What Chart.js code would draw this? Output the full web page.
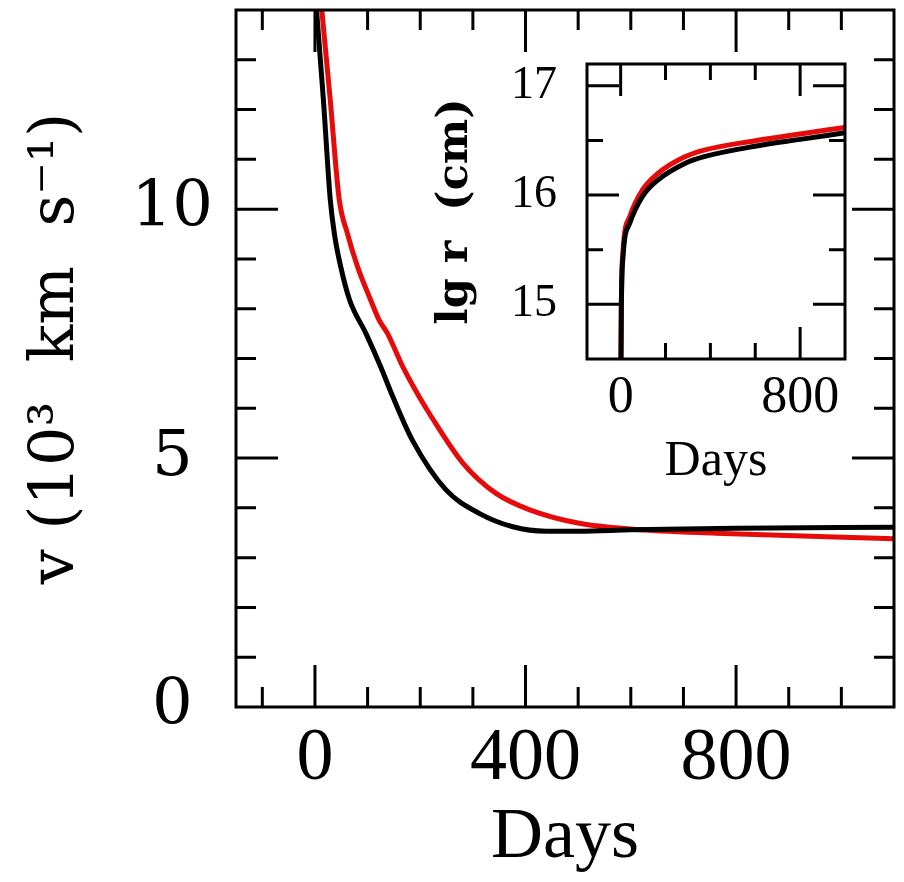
<!DOCTYPE html>
<html>
<head>
<meta charset="utf-8">
<script src="https://cdn.jsdelivr.net/npm/chart.js@4.4.1/dist/chart.umd.min.js"></script>
<style>
  body { margin: 0; background: #fff; }
  #wrap { position: relative; width: 904px; height: 882px; }
  #mainChart { position: absolute; left: 0; top: 0; }
  #insetChart { position: absolute; left: 420px; top: 40px; }
</style>
</head>
<body>
<div id="wrap">
  <canvas id="mainChart" width="904" height="882"></canvas>
  <canvas id="insetChart" width="450" height="460"></canvas>
</div>
<script>
// main panel: expansion velocity vs time
const blackDays = [0, 3, 16, 29, 37, 49, 66, 97, 125, 148, 185, 249, 312, 376, 439, 502, 600, 800, 1100];
const blackVel  = [14.4, 14.0, 12.2, 10.2, 9.5, 8.84, 8.17, 7.5, 6.83, 6.23, 5.36, 4.36, 3.89, 3.62, 3.53, 3.53, 3.56, 3.59, 3.61];

const redDays = [8, 13, 29, 46, 62, 81, 106, 122, 138, 167, 198, 217, 281, 344, 408, 502, 604, 762, 1100];
const redVel  = [14.6, 14.0, 12.2, 10.2, 9.5, 8.84, 8.17, 7.77, 7.5, 6.83, 6.23, 5.9, 4.9, 4.29, 3.96, 3.69, 3.57, 3.49, 3.38];

// inset: radius vs time
const insetBlackDays = [0, 3, 10, 40, 98, 167, 286, 368, 606, 800, 1000];
const insetBlackLgR  = [14.0, 14.95, 15.42, 15.74, 15.99, 16.14, 16.29, 16.35, 16.45, 16.51, 16.57];
const insetRedDays = [0, 3, 10, 40, 98, 167, 286, 368, 606, 800, 1000];
const insetRedLgR  = [14.0, 14.98, 15.47, 15.80, 16.05, 16.20, 16.35, 16.41, 16.50, 16.56, 16.62];

// tick labels / tick marks
const mainXLabels = [0, 400, 800];
const mainYLabels = [0, 5, 10];
const mainXMinor = [-100, 0, 100, 200, 300, 400, 500, 600, 700, 800, 900, 1000];
const mainYMinor = [1, 2, 3, 4, 5, 6, 7, 8, 9, 10, 11, 12, 13];
const insetXLabels = [0, 800];
const insetYLabels = [15, 16, 17];
const insetXMinor = [0, 200, 400, 600, 800];
const insetYMinor = [15, 15.5, 16, 16.5, 17];

const toXY = (xs, ys) => xs.map((d, i) => ({ x: d, y: ys[i] }));

// frame box + inward ticks on all four sides
const frameTicks = {
  id: 'frameTicks',
  afterDraw(chart, args, o) {
    const { ctx, chartArea: a } = chart;
    const x = chart.scales.x, y = chart.scales.y;
    ctx.save();
    ctx.strokeStyle = '#000';
    ctx.lineWidth = o.lineWidth;
    ctx.beginPath();
    o.xTicks.forEach(v => {
      const px = x.getPixelForValue(v);
      const len = o.xMajor.includes(v) ? o.major : o.minor;
      ctx.moveTo(px, a.bottom); ctx.lineTo(px, a.bottom - len);
      ctx.moveTo(px, a.top); ctx.lineTo(px, a.top + len);
    });
    o.yTicks.forEach(v => {
      const py = y.getPixelForValue(v);
      const len = o.yMajor.includes(v) ? o.major : o.minor;
      ctx.moveTo(a.left, py); ctx.lineTo(a.left + len, py);
      ctx.moveTo(a.right, py); ctx.lineTo(a.right - len, py);
    });
    ctx.stroke();
    ctx.strokeRect(a.left, a.top, a.right - a.left, a.bottom - a.top);
    ctx.restore();
  }
};

const serif = 'Liberation Serif';
const wide = 'DejaVu Serif';

function lineSet(data, color, w) {
  return {
    data, borderColor: color, borderWidth: w, pointRadius: 0,
    cubicInterpolationMode: 'monotone', fill: false, clip: 0
  };
}

// fixed axis box, no extra label overhang padding
function fixSize(key, size) {
  return s => {
    s[key] = size;
    s.paddingTop = 0; s.paddingBottom = 0; s.paddingLeft = 0; s.paddingRight = 0;
  };
}

new Chart(document.getElementById('mainChart'), {
  type: 'line',
  data: {
    datasets: [
      lineSet(toXY(blackDays, blackVel), '#000000', 5),
      lineSet(toXY(redDays, redVel), '#e60a0a', 5)
    ]
  },
  options: {
    responsive: false,
    animation: false,
    layout: { padding: { top: 10, right: 10, left: 0, bottom: 0 } },
    plugins: {
      legend: { display: false },
      tooltip: { enabled: false },
      frameTicks: { lineWidth: 3, major: 42, minor: 20,
        xTicks: mainXMinor, xMajor: mainXLabels, yTicks: mainYMinor, yMajor: mainYLabels }
    },
    scales: {
      x: {
        type: 'linear', min: -150, max: 1100,
        afterBuildTicks: s => { s.ticks = mainXLabels.map(v => ({ value: v })); },
        afterFit: fixSize('height', 175),
        grid: { display: false, drawTicks: false },
        border: { display: false },
        ticks: { color: '#000', padding: 8, maxRotation: 0, font: { family: serif, size: 74 } },
        title: { display: true, text: 'Days', color: '#000', padding: { bottom: 8 },
          font: { family: serif, size: 72, lineHeight: 1 } }
      },
      y: {
        type: 'linear', min: 0, max: 14,
        afterBuildTicks: s => { s.ticks = mainYLabels.map(v => ({ value: v })); },
        afterFit: fixSize('width', 236),
        grid: { display: false, drawTicks: false },
        border: { display: false },
        ticks: { color: '#000', padding: 23, crossAlign: 'center', font: { family: wide, size: 64 } },
        title: { display: true, text: ' v (10³  km  s⁻¹)', color: '#000', padding: { top: 26 },
          font: { family: wide, size: 62, lineHeight: 1 } }
      }
    }
  },
  plugins: [frameTicks]
});

new Chart(document.getElementById('insetChart'), {
  type: 'line',
  data: {
    datasets: [
      lineSet(toXY(insetBlackDays, insetBlackLgR), '#000000', 5),
      lineSet(toXY(insetRedDays, insetRedLgR), '#e60a0a', 5)
    ]
  },
  options: {
    responsive: false,
    animation: false,
    layout: { padding: { top: 24, right: 25, left: 0, bottom: 0 } },
    plugins: {
      legend: { display: false },
      tooltip: { enabled: false },
      frameTicks: { lineWidth: 3, major: 32, minor: 16,
        xTicks: insetXMinor, xMajor: insetXLabels, yTicks: insetYMinor, yMajor: insetYLabels }
    },
    scales: {
      x: {
        type: 'linear', min: -150, max: 1000,
        afterBuildTicks: s => { s.ticks = insetXLabels.map(v => ({ value: v })); },
        afterFit: fixSize('height', 141),
        grid: { display: false, drawTicks: false },
        border: { display: false },
        ticks: { color: '#000', padding: 8, maxRotation: 0, font: { family: serif, size: 52 } },
        title: { display: true, text: 'Days', color: '#000', padding: { bottom: 13 },
          font: { family: serif, size: 50, lineHeight: 1 } }
      },
      y: {
        type: 'linear', min: 14.5, max: 17.2,
        afterBuildTicks: s => { s.ticks = insetYLabels.map(v => ({ value: v })); },
        afterFit: fixSize('width', 167),
        grid: { display: false, drawTicks: false },
        border: { display: false },
        ticks: { color: '#000', padding: 30, crossAlign: 'center', font: { family: serif, size: 46 } },
        title: { display: true, text: 'lg r  (cm)', color: '#000', padding: { top: 14 },
          font: { family: wide, size: 43, weight: 'bold', lineHeight: 1 } }
      }
    }
  },
  plugins: [frameTicks]
});
</script>
</body>
</html>
